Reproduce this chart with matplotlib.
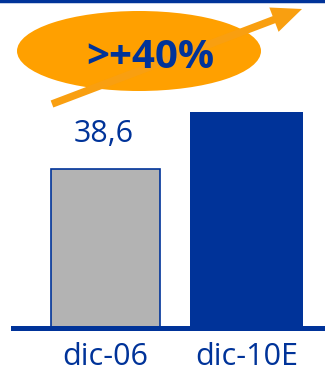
import matplotlib.pyplot as plt
from matplotlib.patches import Ellipse, FancyArrow

# data
categories = ['dic-06', 'dic-10E']
values = [38.6, 52.4]
value_labels = ['38,6', '']
growth_label = '>+40%'

BLUE = '#003399'
GRAY = '#B3B3B3'
ORANGE = '#FFA000'

plt.rcParams['font.family'] = ['Open Sans', 'DejaVu Sans']

W, H = 325, 372
fig = plt.figure(figsize=(W / 100, H / 100), dpi=100)

# bar axes: baseline at y=328 px from top
ax = fig.add_axes([13 / W, (H - 328) / H, 312 / W, 328 / H])
ax.set_xlim(-0.656, 1.557)
ax.set_ylim(0, 79.6)

x = list(range(len(categories)))
ax.bar(x[0], values[0], width=0.77, color=GRAY, edgecolor=BLUE, linewidth=1.2)
ax.bar(x[1], values[1], width=0.80, color=BLUE, edgecolor=BLUE, linewidth=0)
ax.axhline(0, color=BLUE, linewidth=3.6, clip_on=False)

for xi, v, lab in zip(x, values, value_labels):
    if lab:
        ax.text(xi - 0.01, v + 8.6, lab, ha='center', va='center', fontsize=22, color=BLUE)

ax.set_xticks(x)
ax.set_xticklabels(categories, fontsize=22, color=BLUE)
ax.tick_params(axis='x', length=0, pad=10)
ax.set_yticks([])
for s in ax.spines.values():
    s.set_visible(False)
ax.patch.set_alpha(0)

# overlay in pixel coordinates for decorations
ov = fig.add_axes([0, 0, 1, 1])
ov.set_xlim(0, W)
ov.set_ylim(H, 0)
ov.axis('off')
ov.patch.set_alpha(0)

ov.axhline(1, color=BLUE, linewidth=2.5)
ov.add_patch(Ellipse((139, 51), 244, 80, color=ORANGE, linewidth=0))
ov.add_patch(FancyArrow(52, 104, 250, -95, width=7.5, head_width=26, head_length=30,
                        length_includes_head=True, color='#F99F10', linewidth=0))
ov.text(150, 57, growth_label, ha='center', va='center', fontsize=29,
        fontweight='bold', color=BLUE)

fig.savefig('out.png', dpi=100)
